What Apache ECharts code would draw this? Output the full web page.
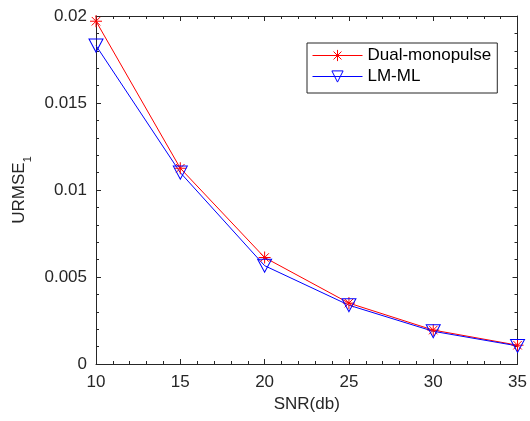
<!DOCTYPE html>
<html>
<head>
<meta charset="utf-8">
<script src="https://cdn.jsdelivr.net/npm/echarts@6/dist/echarts.min.js"></script>
<style>html,body{margin:0;padding:0;background:#fff;}#c{width:530px;height:421px;}</style>
</head>
<body>
<div id="c"></div>
<script>
const snr = [10, 15, 20, 25, 30, 35];
const dualMonopulse = [0.0197, 0.01125, 0.00612, 0.00350, 0.00195, 0.00108];
const lmML = [0.0183, 0.01100, 0.00565, 0.00338, 0.00188, 0.00104];
const seriesNames = ['Dual-monopulse', 'LM-ML'];
const xTicks = [10, 15, 20, 25, 30, 35];
const yTicks = [0, 0.005, 0.01, 0.015, 0.02];

const axisColor = '#262626';
const font = 'Liberation Sans, Arial, sans-serif';
const fs = 17;
const starPath = 'path://M0,-10L0,10M-10,0L10,0M-7.07,-7.07L7.07,7.07M-7.07,7.07L7.07,-7.07';
const triPath = 'path://M-10,-8.66L10,-8.66L0,8.66Z';

const chart = echarts.init(document.getElementById('c'), null, {renderer: 'canvas'});
const baseX = {
  type: 'value', min: xTicks[0], max: xTicks[xTicks.length - 1], interval: 5,
  axisLine: {show: true, onZero: false, lineStyle: {color: axisColor, width: 1}},
  axisTick: {show: true, inside: true, length: 5, lineStyle: {color: axisColor}},
  minorTick: {show: true, splitNumber: 5, length: 3, lineStyle: {color: axisColor}},
  splitLine: {show: false}
};
const baseY = {
  type: 'value', min: yTicks[0], max: yTicks[yTicks.length - 1], interval: 0.005,
  axisLine: {show: true, onZero: false, lineStyle: {color: axisColor, width: 1}},
  axisTick: {show: true, inside: true, length: 5, lineStyle: {color: axisColor}},
  minorTick: {show: true, splitNumber: 5, length: 3, lineStyle: {color: axisColor}},
  splitLine: {show: false}
};
chart.setOption({
  animation: false,
  backgroundColor: '#fff',
  grid: {left: 96, right: 9, top: 16, bottom: 57},
  legend: {
    orient: 'vertical', left: 307, top: 43,
    padding: [4, 6, 8, 5],
    itemWidth: 50, itemHeight: 14, itemGap: 4,
    borderColor: axisColor, borderWidth: 1, backgroundColor: '#fff',
    textStyle: {fontFamily: font, fontSize: fs, color: '#000'},
    lineStyle: {width: 1},
    itemStyle: {borderWidth: 1},
    data: seriesNames
  },
  xAxis: [
    Object.assign({}, baseX, {
      position: 'bottom', name: 'SNR(db)', nameLocation: 'middle', nameGap: 32,
      nameTextStyle: {fontFamily: font, fontSize: fs, color: axisColor},
      axisLabel: {fontFamily: font, fontSize: fs, color: axisColor, margin: 10}
    }),
    Object.assign({}, baseX, {position: 'top', axisLabel: {show: false}})
  ],
  yAxis: [
    Object.assign({}, baseY, {
      position: 'left', name: 'URMSE{sub|1}', nameLocation: 'middle', nameGap: 66,
      nameTextStyle: {fontFamily: font, fontSize: fs, color: axisColor,
        rich: {sub: {fontFamily: font, fontSize: 11, color: axisColor, verticalAlign: 'bottom', padding: [0, 0, -6, 0]}}},
      axisLabel: {fontFamily: font, fontSize: fs, color: axisColor, margin: 9,
        formatter: v => String(v)}
    }),
    Object.assign({}, baseY, {position: 'right', axisLabel: {show: false}})
  ],
  series: [
    {
      name: seriesNames[0], type: 'line',
      data: snr.map((x, i) => [x, dualMonopulse[i]]),
      symbol: starPath, symbolSize: 12, showAllSymbol: true,
      lineStyle: {color: '#ff0000', width: 1},
      itemStyle: {color: 'none', borderColor: '#ff0000', borderWidth: 1},
      emphasis: {disabled: true}
    },
    {
      name: seriesNames[1], type: 'line',
      data: snr.map((x, i) => [x, lmML[i]]),
      symbol: triPath, symbolSize: [14, 13], showAllSymbol: true,
      lineStyle: {color: '#0000ff', width: 1},
      itemStyle: {color: 'none', borderColor: '#0000ff', borderWidth: 1},
      emphasis: {disabled: true}
    }
  ]
});
</script>
</body>
</html>
